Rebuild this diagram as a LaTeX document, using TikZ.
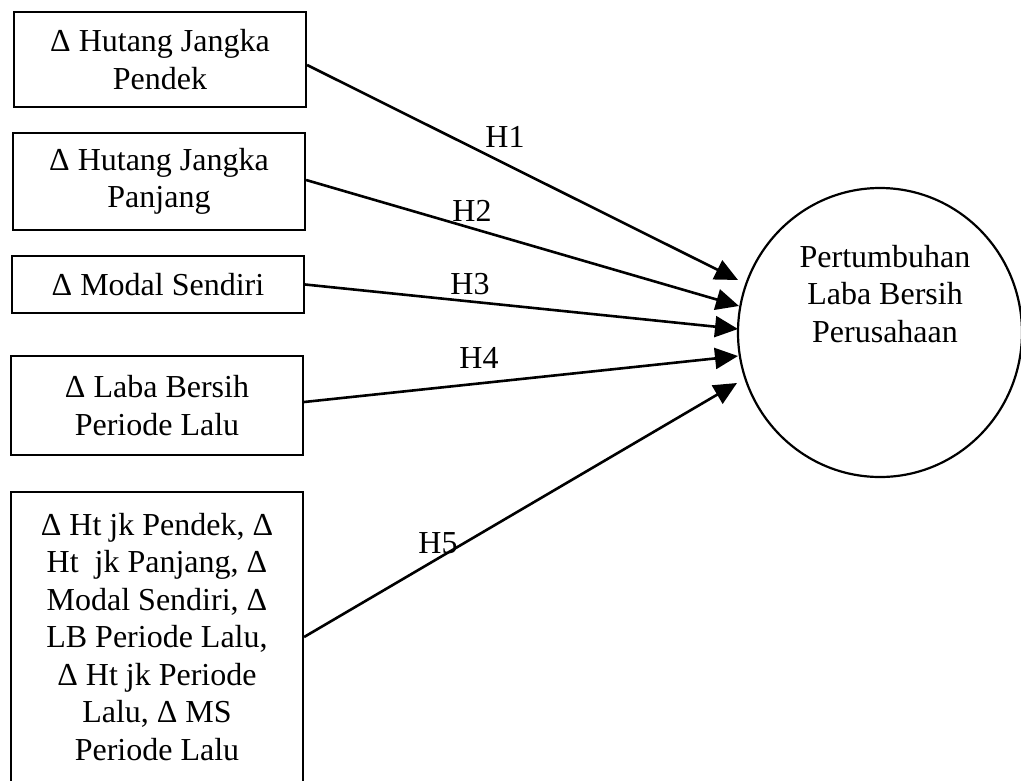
\documentclass[tikz,border=0pt]{standalone}
\usepackage{fontspec}
\setmainfont{Liberation Serif}
\usetikzlibrary{arrows.meta,shapes.geometric,calc}
\tikzset{
  varbox/.style={draw, line width=2.2pt, minimum width=292pt, inner sep=0pt, align=center},
  conn/.style={line width=2.6pt, -{Triangle[length=23pt,width=21pt]}},
  hlabel/.style={inner sep=0pt},
}
\begin{document}
\begin{tikzpicture}[x=1pt,y=-1pt,font=\fontsize{32}{37.5}\selectfont]
\useasboundingbox (0,0) rectangle (1021,780);
\node[varbox, minimum height=95pt] (b1) at (160,59.5) {Δ Hutang Jangka\\Pendek};
\node[varbox, minimum height=97pt] (b2) at (159,181.5) {Δ Hutang Jangka\\Panjang};
\node[varbox, minimum height=57pt] (b3) at (158,284.5) {Δ Modal Sendiri};
\node[varbox, minimum height=99pt] (b4) at (157,405.5) {Δ Laba Bersih\\Periode Lalu};
\node[varbox, minimum height=290pt] (b5) at (157,637) {Δ Ht jk Pendek, Δ\\Ht\ \ jk Panjang, Δ\\Modal Sendiri, Δ\\LB Periode Lalu,\\Δ Ht jk Periode\\Lalu, Δ MS\\Periode Lalu};
\node[draw, ellipse, line width=2.2pt, minimum width=284pt, minimum height=289pt, inner sep=0pt] (c) at (880,332.5) {};
\node[align=center, inner sep=0pt] (ct) at (885,294) {Pertumbuhan\\Laba Bersih\\Perusahaan};
\coordinate (e1) at (738,280);
\coordinate (e2) at (739,306);
\coordinate (e3) at (738,329);
\coordinate (e4) at (738,356);
\coordinate (e5) at (737,383);
\draw[conn] ([yshift=-5.5pt]b1.east) -- (e1);
\draw[conn] ([yshift=1.5pt]b2.east) -- (e2);
\draw[conn] (b3.east) -- (e3);
\draw[conn] ([yshift=3.5pt]b4.east) -- (e4);
\draw[conn] (b5.east) -- (e5);
\node[hlabel] (h1) at (505,137) {H1};
\node[hlabel] (h2) at (472,211) {H2};
\node[hlabel] (h3) at (470,284) {H3};
\node[hlabel] (h4) at (479,358) {H4};
\node[hlabel] (h5) at (438,543) {H5};
\end{tikzpicture}
\end{document}
